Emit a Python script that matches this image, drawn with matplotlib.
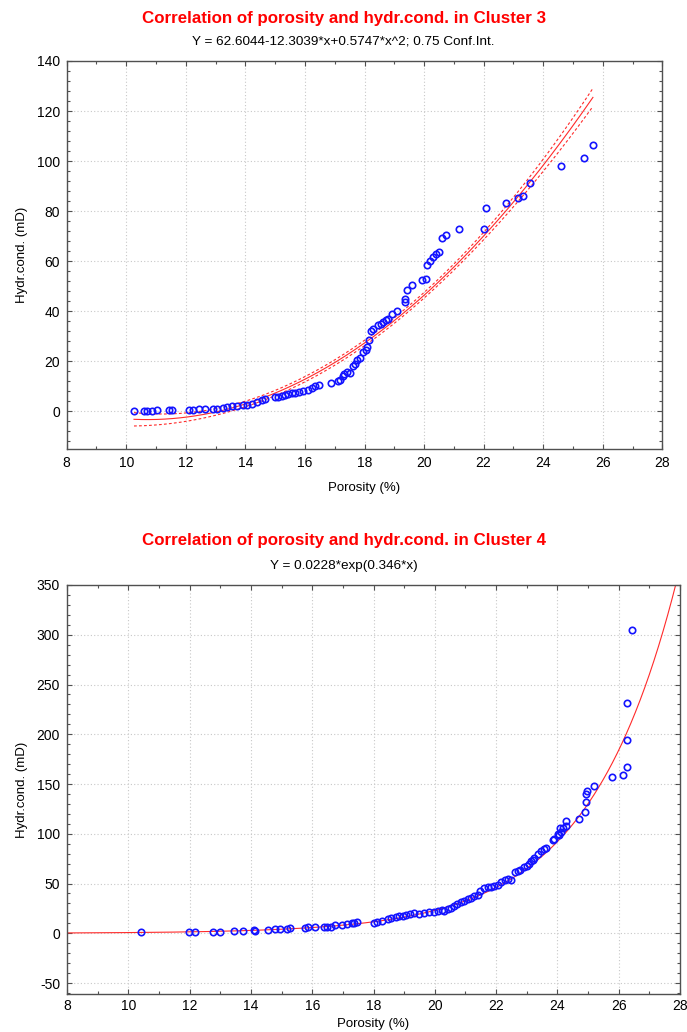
import numpy as np
import matplotlib
matplotlib.use('Agg')
import matplotlib.pyplot as plt
from matplotlib.ticker import MultipleLocator

plt.rcParams['font.family'] = ['Liberation Sans', 'DejaVu Sans']
plt.rcParams['axes.unicode_minus'] = False

# ---------------- data: Cluster 3 ----------------
x3 = [10.26, 10.61, 10.71, 10.85, 11.04, 11.44, 11.54, 12.12, 12.25, 12.43,
      12.65, 12.92, 13.04, 13.26, 13.37, 13.54, 13.71, 13.91, 14.04, 14.21,
      14.38, 14.55, 14.66, 15.0, 15.11, 15.22, 15.33, 15.44, 15.56, 15.67,
      15.81, 15.95, 16.11, 16.23, 16.34, 16.48, 16.87, 17.12, 17.18, 17.27,
      17.31, 17.42, 17.51, 17.60, 17.68, 17.76, 17.85, 17.94, 18.05, 18.09,
      18.16, 18.22, 18.28, 18.46, 18.54, 18.63, 18.72, 18.80, 18.91, 19.08,
      19.36, 19.36, 19.42, 19.59, 19.92, 20.06, 20.09, 20.2, 20.29, 20.39,
      20.5, 20.59, 20.74, 21.18, 22.01, 22.07, 22.74, 23.17, 23.33, 23.56,
      24.6, 25.38, 25.67]
y3 = [0, 0, 0.1, 0.1, 0.4, 0.4, 0.7, 0.5, 0.5, 0.8,
      0.8, 0.9, 1.1, 1.5, 1.7, 2.1, 2.1, 2.4, 2.5, 3.1,
      3.7, 4.4, 4.8, 5.7, 5.7, 6.0, 6.4, 7.1, 7.3, 7.5,
      7.7, 8.0, 8.4, 9.3, 10.0, 10.4, 11.3, 12.0, 12.4, 14.1,
      14.8, 15.7, 15.5, 18.0, 18.8, 20.4, 21.5, 23.7, 24.7, 25.7,
      28.7, 32.0, 33.1, 34.4, 35.1, 35.7, 36.4, 37.1, 39.1, 40.0,
      43.7, 45.1, 48.4, 50.4, 52.4, 52.8, 58.4, 60.0, 61.7, 62.8,
      63.7, 69.1, 70.4, 72.7, 72.7, 81.1, 83.3, 85.1, 86.0, 91.3,
      98.0, 101.1, 106.4]
coef3 = [62.6044, -12.3039, 0.5747]   # Y = a + b*x + c*x^2
conf_level_t = 1.155                   # t(0.875, df~80) for 0.75 conf. int.

# ---------------- data: Cluster 4 ----------------
x4 = [10.41, 11.99, 12.16, 12.76, 13.0, 13.46, 13.73, 14.11, 14.14, 14.56,
      14.80, 14.96, 15.18, 15.27, 15.78, 15.87, 16.08, 16.38, 16.49, 16.62,
      16.76, 16.98, 17.15, 17.31, 17.36, 17.47,
      18.0, 18.13, 18.29, 18.46, 18.57, 18.73, 18.84, 18.95, 19.06, 19.20,
      19.33, 19.49, 19.66, 19.82, 19.96, 20.09, 20.22, 20.31, 20.44, 20.53,
      20.64, 20.74, 20.85, 20.96, 21.07, 21.18, 21.29, 21.42, 21.48, 21.62,
      21.72, 21.83, 21.94, 22.05, 22.16, 22.29, 22.38, 22.49, 22.63, 22.70,
      22.79, 22.92, 23.01, 23.06, 23.14, 23.19, 23.25, 23.36, 23.47, 23.55,
      23.63, 23.85, 24.01, 24.09,
      23.89, 24.05, 24.11, 24.18, 24.29, 24.29, 24.69, 24.90, 24.92, 24.92,
      24.97, 25.19, 25.78, 26.14, 26.26, 26.27, 26.26, 26.45]
y4 = [1.0, 1.7, 1.7, 1.7, 1.7, 2.4, 2.4, 3.4, 2.0, 3.7,
      4.8, 4.8, 4.8, 5.4, 5.4, 6.1, 6.1, 6.8, 6.8, 6.5,
      8.2, 8.5, 9.2, 9.9, 10.2, 11.2,
      10.8, 11.8, 12.8, 14.2, 15.2, 16.2, 16.9, 17.5, 18.2, 19.2,
      20.2, 19.5, 20.2, 20.9, 21.2, 22.6, 23.6, 22.9, 24.3, 25.3,
      27.6, 29.7, 31.0, 32.0, 34.4, 35.4, 37.1, 38.8, 42.8, 45.5,
      46.5, 46.5, 47.2, 48.9, 51.2, 53.9, 54.6, 53.9, 61.3, 62.3,
      64.0, 66.7, 67.4, 69.8, 72.5, 74.1, 75.8, 79.2, 82.6, 84.3,
      85.9, 93.7, 99.4, 106.2,
      94.6, 98.3, 101.3, 105.4, 107.4, 112.4, 114.7, 121.4, 131.5, 139.9,
      143.2, 148.2, 156.6, 158.6, 167.3, 194.5, 231.3, 305.0]
coef4 = [0.0228, 0.346]               # Y = a*exp(b*x)

title3 = 'Correlation of porosity and hydr.cond. in Cluster 3'
sub3 = 'Y = 62.6044-12.3039*x+0.5747*x^2; 0.75 Conf.Int.'
title4 = 'Correlation of porosity and hydr.cond. in Cluster 4'
sub4 = 'Y = 0.0228*exp(0.346*x)'
xlabel = 'Porosity (%)'
ylabel = 'Hydr.cond. (mD)'

# ---------------- figure ----------------
W, H = 687, 1032
fig = plt.figure(figsize=(W / 100, H / 100), dpi=100)


def add_ax(l, t, r, b):
    return fig.add_axes([l / W, 1 - b / H, (r - l) / W, (b - t) / H])


ax1 = add_ax(66.7, 61, 662.3, 449)
ax2 = add_ax(67, 585, 680, 994)

RED = '#ff2a2a'
BLUE = '#1414ff'


def style(ax, ymaj, ymin, ylim, left_px, top_px, bottom_px, xlab_off, xpad):
    ax.set_xlim(8, 28)
    ax.set_ylim(*ylim)
    ax.xaxis.set_major_locator(MultipleLocator(2))
    ax.xaxis.set_minor_locator(MultipleLocator(1))
    ax.yaxis.set_major_locator(MultipleLocator(ymaj))
    ax.yaxis.set_minor_locator(MultipleLocator(ymin))
    ax.grid(True, which='major', color='#c8c8c8', linestyle=(0, (1, 2)), linewidth=0.8)
    ax.set_axisbelow(True)
    ax.tick_params(which='both', direction='in', top=True, right=True,
                   color='#505050', labelsize=10, labelcolor='black')
    ax.tick_params(which='major', length=3.5, width=0.8, pad=5)
    ax.tick_params(axis='x', which='major', pad=xpad)
    ax.tick_params(which='minor', length=2, width=0.8)
    for s in ax.spines.values():
        s.set_color('#505050')
        s.set_linewidth(1.0)
    ax.set_xlabel(xlabel, fontsize=9.5)
    ax.set_ylabel(ylabel, fontsize=9.5)
    ax.xaxis.label.set_verticalalignment('center')
    ax.yaxis.label.set_verticalalignment('center')
    hpx = bottom_px - top_px
    right_px = left_px + ax.get_position().width * W
    ax.yaxis.set_label_coords((22 - left_px) / (right_px - left_px), 0.5)
    ax.xaxis.set_label_coords(0.5, -xlab_off / hpx)


style(ax1, 20, 4, (-15, 140), 66.7, 61, 449, 39, 5)
style(ax2, 50, 10, (-61, 350), 67, 585, 994, 30, 3.5)

# ---- Cluster 3: quadratic fit with 0.75 confidence band ----
xa = np.array(x3)
ya = np.array(y3)
X = np.column_stack([np.ones_like(xa), xa, xa ** 2])
b = np.array(coef3)
res = ya - X @ b
s2 = np.sum(res ** 2) / (len(xa) - 3)
cov = s2 * np.linalg.inv(X.T @ X)
xg = np.linspace(xa.min(), xa.max(), 300)
Xg = np.column_stack([np.ones_like(xg), xg, xg ** 2])
yg = Xg @ b
se = np.sqrt(np.einsum('ij,jk,ik->i', Xg, cov, Xg))
ax1.plot(xg, yg, color=RED, lw=0.8, zorder=2)
ax1.plot(xg, yg + conf_level_t * se, color=RED, lw=0.8, ls=(0, (2.5, 2)), zorder=2)
ax1.plot(xg, yg - conf_level_t * se, color=RED, lw=0.8, ls=(0, (2.5, 2)), zorder=2)
ax1.plot(x3, y3, 'o', mfc='none', mec=BLUE, ms=4.6, mew=1.2, zorder=3)

# ---- Cluster 4: exponential fit ----
xg4 = np.linspace(8, 28, 400)
ax2.plot(xg4, coef4[0] * np.exp(coef4[1] * xg4), color=RED, lw=0.8, zorder=2)
ax2.plot(x4, y4, 'o', mfc='none', mec=BLUE, ms=4.6, mew=1.2, zorder=3)

# ---- titles ----
fig.text(0.5, 1 - 18 / H, title3, color='#ff0000', fontweight='bold', fontsize=12.2,
         ha='center', va='center')
fig.text(0.5, 1 - 42 / H, sub3, color='black', fontsize=9.7, ha='center', va='center')
fig.text(0.5, 1 - 541 / H, title4, color='#ff0000', fontweight='bold', fontsize=12.2,
         ha='center', va='center')
fig.text(0.5, 1 - 566 / H, sub4, color='black', fontsize=9.7, ha='center', va='center')

fig.savefig('out.png', dpi=100)
